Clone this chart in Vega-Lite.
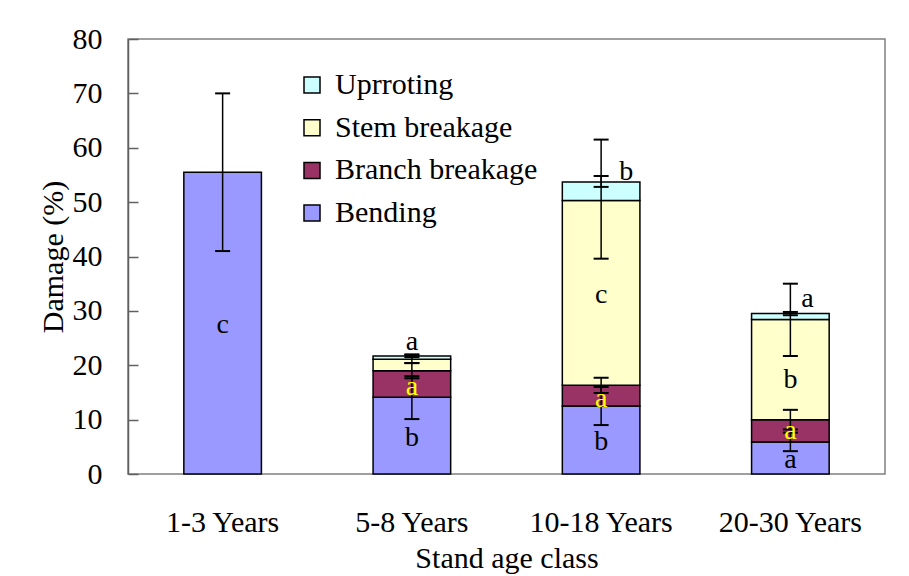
{
  "$schema": "https://vega.github.io/schema/vega-lite/v6.json",
  "width": 757,
  "height": 435,
  "autosize": "none",
  "padding": {"left": 128, "top": 39, "right": 24, "bottom": 102},
  "background": "white",
  "config": {
    "font": "Liberation Serif",
    "view": {"stroke": "#808080", "strokeWidth": 1.5},
    "axis": {"grid": false, "labelFont": "Liberation Serif", "titleFont": "Liberation Serif", "labelColor": "black", "titleColor": "black", "titleFontWeight": "normal"}
  },
  "datasets": {
    "bars": [
      {"age": "1-3 Years", "type": "Bending", "ord": 1, "value": 55.5, "lo": 41.0, "hi": 70.0},
      {"age": "5-8 Years", "type": "Bending", "ord": 1, "value": 14.1, "lo": 10.1, "hi": 18.0},
      {"age": "5-8 Years", "type": "Branch breakage", "ord": 2, "value": 4.9, "lo": 17.6, "hi": 20.4},
      {"age": "5-8 Years", "type": "Stem breakage", "ord": 3, "value": 2.1, "lo": 20.4, "hi": 21.9},
      {"age": "5-8 Years", "type": "Uprroting", "ord": 4, "value": 0.6, "lo": 21.5, "hi": 22.0},
      {"age": "10-18 Years", "type": "Bending", "ord": 1, "value": 12.5, "lo": 9.0, "hi": 16.0},
      {"age": "10-18 Years", "type": "Branch breakage", "ord": 2, "value": 3.8, "lo": 14.9, "hi": 17.7},
      {"age": "10-18 Years", "type": "Stem breakage", "ord": 3, "value": 34.0, "lo": 39.6, "hi": 61.5},
      {"age": "10-18 Years", "type": "Uprroting", "ord": 4, "value": 3.4, "lo": 52.8, "hi": 54.8},
      {"age": "20-30 Years", "type": "Bending", "ord": 1, "value": 5.9, "lo": 4.2, "hi": 7.6},
      {"age": "20-30 Years", "type": "Branch breakage", "ord": 2, "value": 4.1, "lo": 8.2, "hi": 11.8},
      {"age": "20-30 Years", "type": "Stem breakage", "ord": 3, "value": 18.4, "lo": 21.7, "hi": 35.0},
      {"age": "20-30 Years", "type": "Uprroting", "ord": 4, "value": 1.1, "lo": 29.2, "hi": 29.8}
    ],
    "letters": [
      {"age": "1-3 Years", "type": "Bending", "letter": "c", "ly": 25.9},
      {"age": "5-8 Years", "type": "Bending", "letter": "b", "ly": 5.2},
      {"age": "5-8 Years", "type": "Branch breakage", "letter": "a", "ly": 14.6},
      {"age": "5-8 Years", "type": "Uprroting", "letter": "a", "ly": 22.85},
      {"age": "10-18 Years", "type": "Bending", "letter": "b", "ly": 4.5},
      {"age": "10-18 Years", "type": "Branch breakage", "letter": "a", "ly": 12.4},
      {"age": "10-18 Years", "type": "Stem breakage", "letter": "c", "ly": 31.4},
      {"age": "10-18 Years", "type": "Uprroting", "letter": "b", "ly": 54.1},
      {"age": "20-30 Years", "type": "Bending", "letter": "a", "ly": 1.1},
      {"age": "20-30 Years", "type": "Branch breakage", "letter": "a", "ly": 6.5},
      {"age": "20-30 Years", "type": "Stem breakage", "letter": "b", "ly": 15.8},
      {"age": "20-30 Years", "type": "Uprroting", "letter": "a", "ly": 30.8}
    ]
  },
  "layer": [
    {
      "data": {"name": "bars"},
      "mark": {"type": "bar", "stroke": "black", "strokeWidth": 1.5},
      "encoding": {
        "x": {
          "field": "age", "type": "nominal", "title": "Stand age class",
          "scale": {"domain": ["1-3 Years", "5-8 Years", "10-18 Years", "20-30 Years"], "paddingInner": 0.59, "paddingOuter": 0.295},
          "axis": {"labelAngle": 0, "domain": false, "ticks": false, "labelFontSize": 30, "labelPadding": 33, "titleFontSize": 30, "titlePadding": 6}
        },
        "y": {
          "field": "value", "type": "quantitative", "stack": "zero", "title": "Damage (%)",
          "scale": {"domain": [0, 80]},
          "axis": {"values": [0, 10, 20, 30, 40, 50, 60, 70, 80], "domain": true, "domainColor": "#606060", "domainWidth": 1.5, "tickColor": "#606060", "tickWidth": 1.5, "tickSize": -10, "labelPadding": 36, "labelFontSize": 30, "titleFontSize": 30, "titlePadding": 4}
        },
        "color": {
          "field": "type", "type": "nominal", "title": null,
          "scale": {"domain": ["Uprroting", "Stem breakage", "Branch breakage", "Bending"], "range": ["#ccffff", "#ffffcc", "#993366", "#9999ff"]},
          "legend": {"orient": "none", "legendX": 169, "legendY": 31, "padding": 0, "symbolType": "square", "symbolSize": 256, "symbolStrokeColor": "black", "symbolStrokeWidth": 1.5, "symbolOpacity": 1, "labelFont": "Liberation Serif", "labelFontSize": 30, "labelColor": "black", "labelOffset": 8, "rowPadding": 12.7, "labelLimit": 400}
        },
        "order": {"field": "ord", "type": "quantitative"}
      }
    },
    {
      "data": {"name": "bars"},
      "mark": {"type": "rule", "color": "black", "strokeWidth": 1.5},
      "encoding": {
        "x": {"field": "age", "type": "nominal", "title": "Stand age class"},
        "y": {"field": "lo", "type": "quantitative", "title": "Damage (%)"},
        "y2": {"field": "hi"}
      }
    },
    {
      "data": {"name": "bars"},
      "mark": {"type": "tick", "color": "black", "thickness": 2, "size": 15, "opacity": 1},
      "encoding": {
        "x": {"field": "age", "type": "nominal", "title": "Stand age class"},
        "y": {"field": "lo", "type": "quantitative", "title": "Damage (%)"}
      }
    },
    {
      "data": {"name": "bars"},
      "mark": {"type": "tick", "color": "black", "thickness": 2, "size": 15, "opacity": 1},
      "encoding": {
        "x": {"field": "age", "type": "nominal", "title": "Stand age class"},
        "y": {"field": "hi", "type": "quantitative", "title": "Damage (%)"}
      }
    },
    {
      "data": {"name": "letters"},
      "transform": [{"filter": "!(datum.type == 'Uprroting' && datum.age != '5-8 Years')"}],
      "mark": {"type": "text", "font": "Liberation Serif", "fontSize": 28, "baseline": "alphabetic", "align": "center"},
      "encoding": {
        "x": {"field": "age", "type": "nominal", "title": "Stand age class"},
        "y": {"field": "ly", "type": "quantitative", "title": "Damage (%)"},
        "text": {"field": "letter"},
        "color": {"condition": {"test": "datum.type == 'Branch breakage'", "value": "#ffff00"}, "value": "black"}
      }
    },
    {
      "data": {"name": "letters"},
      "transform": [{"filter": "datum.type == 'Uprroting' && datum.age == '10-18 Years'"}],
      "mark": {"type": "text", "font": "Liberation Serif", "fontSize": 28, "baseline": "alphabetic", "align": "center", "dx": 25, "color": "black"},
      "encoding": {
        "x": {"field": "age", "type": "nominal", "title": "Stand age class"},
        "y": {"field": "ly", "type": "quantitative", "title": "Damage (%)"},
        "text": {"field": "letter"}
      }
    },
    {
      "data": {"name": "letters"},
      "transform": [{"filter": "datum.type == 'Uprroting' && datum.age == '20-30 Years'"}],
      "mark": {"type": "text", "font": "Liberation Serif", "fontSize": 28, "baseline": "alphabetic", "align": "center", "dx": 17, "color": "black"},
      "encoding": {
        "x": {"field": "age", "type": "nominal", "title": "Stand age class"},
        "y": {"field": "ly", "type": "quantitative", "title": "Damage (%)"},
        "text": {"field": "letter"}
      }
    }
  ]
}
